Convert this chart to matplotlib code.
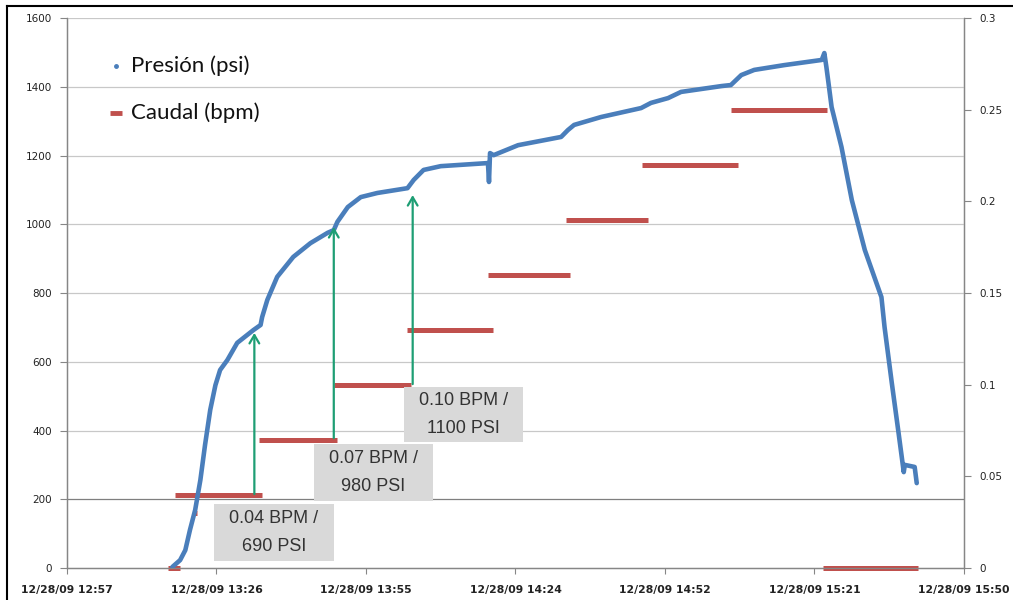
import matplotlib
matplotlib.use("Agg")
from matplotlib import pyplot as plt
from matplotlib.patches import Rectangle

# time in minutes after 12/28/09 12:57
t_pres = [20.3, 21.8, 22.8, 23.7, 24.7, 25.7, 26.6, 27.6, 28.6, 29.5, 30.9, 32.8,
          35.9, 37.3, 37.6, 38.6, 40.5, 43.6, 46.9, 50.2, 51.4, 52.1, 54.1, 56.6,
          59.8, 65.6, 66.8, 68.7, 72.0, 81.1, 81.3, 81.5, 82.2, 86.9, 95.2, 96.5,
          97.7, 102.9, 110.6, 112.5, 115.8, 118.3, 126.1, 127.9, 129.9, 132.4,
          138.2, 145.4, 145.9, 146.3, 146.7, 147.3, 149.2, 151.2, 153.7, 156.9,
          157.5, 158.9, 160.2, 161.2, 161.4, 163.3, 163.7]
presion = [3, 23, 52, 111, 169, 256, 358, 460, 532, 576, 605, 655,
           692, 707, 730, 780, 847, 905, 945, 975, 983, 1007, 1050, 1079,
           1091, 1105, 1129, 1158, 1169, 1178, 1123, 1207, 1201, 1230, 1254, 1274,
           1289, 1312, 1338, 1353, 1367, 1385, 1402, 1405, 1434, 1449,
           1463, 1478, 1498, 1457, 1411, 1341, 1225, 1070, 925, 788,
           701, 538, 393, 279, 300, 294, 247]

caudal_ini = [19.5, 20.8, 24.4, 36.9, 51.4, 65.6, 81.1, 96.1, 110.8, 128.0, 145.6]
caudal_fin = [21.8, 37.6, 25.0, 52.1, 66.2, 82.0, 96.9, 112.0, 129.2, 146.5, 163.9]
caudal = [0.0, 0.04, 0.03, 0.07, 0.10, 0.13, 0.16, 0.19, 0.22, 0.25, 0.0]

tick_min = [0, 28.8, 57.6, 86.4, 115.2, 144.0, 172.8]
tick_lbl = ["12/28/09 12:57", "12/28/09 13:26", "12/28/09 13:55", "12/28/09 14:24",
            "12/28/09 14:52", "12/28/09 15:21", "12/28/09 15:50"]

# annotations: x (min), arrow start psi, arrow end psi, label
flechas_t = [36.1, 51.4, 66.6]
flechas_ini = [215, 378, 535]
flechas_fin = [684, 992, 1085]
etiquetas = ["0.04 BPM /\n690 PSI", "0.07 BPM /\n980 PSI", "0.10 BPM /\n1100 PSI"]

azul = "#4a7ebb"
rojo = "#c0504d"
verde = "#1e9e74"
gris = "#868686"

fig = plt.figure(figsize=(10.13, 6.0), dpi=100)
ax = fig.add_axes([0.0661, 0.0533, 0.8855, 0.9167])
ax2 = ax.twinx()
ax.set_zorder(ax2.get_zorder() + 1)
ax.patch.set_visible(False)

for a in (ax, ax2):
    for s in a.spines.values():
        s.set_color(gris)
        s.set_linewidth(0.9)
    a.spines["top"].set_visible(False)

ax.set_xlim(0, 172.8)
ax.set_ylim(0, 1600)
ax2.set_ylim(0, 0.3)

ax.set_yticks(range(0, 1601, 200))
ax.set_yticklabels([str(v) for v in range(0, 1601, 200)], fontsize=7.5, color="#222222")
ax2.set_yticks([0, 0.05, 0.1, 0.15, 0.2, 0.25, 0.3])
ax2.set_yticklabels(["0", "0.05", "0.1", "0.15", "0.2", "0.25", "0.3"], fontsize=7.5, color="#222222")
ax.set_xticks(tick_min)
ax.set_xticklabels(tick_lbl, fontsize=7.8, color="#222222", fontweight="bold")
ax.tick_params(axis="x", length=4, color=gris, pad=8)
ax.tick_params(axis="y", length=5, color=gris, pad=6)
ax2.tick_params(axis="y", length=5, color=gris, pad=6)

for v in range(200, 1601, 200):
    ax.axhline(v, color="#7f7f7f" if v == 200 else "#c8c8c8", lw=0.9, zorder=0)

# caudal
ax2.hlines(caudal, caudal_ini, caudal_fin, colors=rojo, lw=3.6, clip_on=False, zorder=3)

# presion
ax.plot(t_pres, presion, color=azul, lw=3.3, solid_capstyle="round", solid_joinstyle="round", zorder=4)

for x, y0, y1 in zip(flechas_t, flechas_ini, flechas_fin):
    ax.annotate("", xy=(x, y1), xytext=(x, y0),
                arrowprops=dict(arrowstyle="->,head_length=0.6,head_width=0.35",
                                color=verde, lw=1.6, shrinkA=0, shrinkB=0), zorder=5)

# gray label boxes (axes fraction, from the picture)
cajas = [(0.1637, 0.0127, 0.1342, 0.1036),
         (0.2752, 0.1218, 0.1331, 0.1036),
         (0.3757, 0.2291, 0.1331, 0.1000)]
for (x0, y0, w, h), txt in zip(cajas, etiquetas):
    ax.add_patch(Rectangle((x0, y0), w, h, transform=ax.transAxes,
                           facecolor="#d9d9d9", edgecolor="none", zorder=6))
    ax.text(x0 + w / 2, y0 + h / 2, txt, transform=ax.transAxes, ha="center", va="center",
            fontsize=13, family="Liberation Sans", color="#333333", linespacing=1.8, zorder=7)

# legend
ax.plot([0.0547], [0.9127], marker="o", ms=2.5, color=azul, transform=ax.transAxes, clip_on=False)
ax.plot([0.0547], [0.8273], marker="_", ms=9, mew=3.5, color=rojo, transform=ax.transAxes, clip_on=False)
ax.text(0.0715, 0.9127, "Presión (psi)", transform=ax.transAxes, va="center",
        fontsize=16, family="Lato", color="#111111")
ax.text(0.0715, 0.8273, "Caudal (bpm)", transform=ax.transAxes, va="center",
        fontsize=16, family="Lato", color="#111111")

# outer frame of the screenshot
fig.add_artist(plt.Line2D([0.007, 0.007], [0.0, 0.99], color="black", lw=1.5, transform=fig.transFigure))
fig.add_artist(plt.Line2D([0.007, 1.0], [0.99, 0.99], color="black", lw=1.5, transform=fig.transFigure))

fig.savefig("out.png", dpi=100)
